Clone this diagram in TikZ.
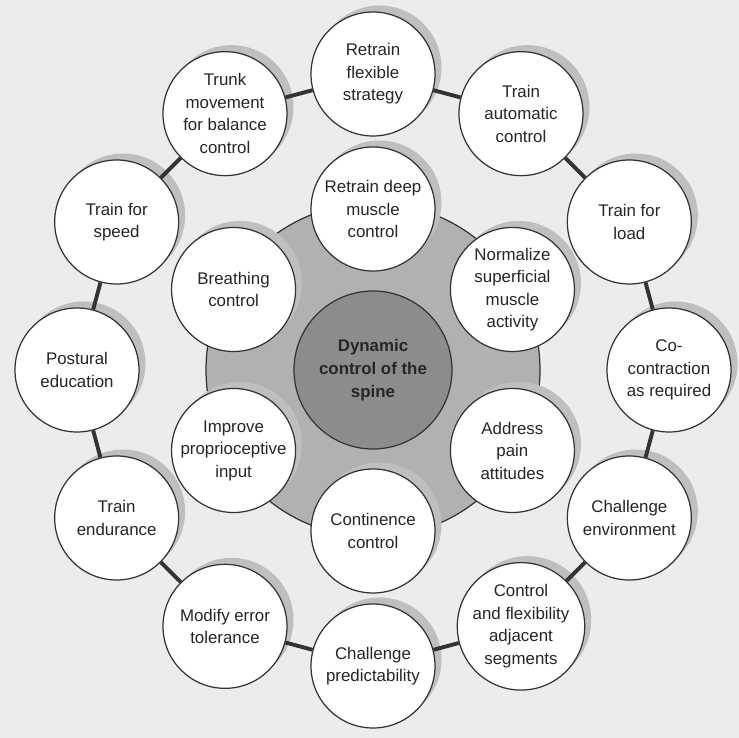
\documentclass[tikz,border=0pt]{standalone}
\usepackage{fontspec}
\setmainfont{Liberation Sans}
\usetikzlibrary{shadows}
\definecolor{pagegrey}{HTML}{ECECEE}
\definecolor{hubgrey}{HTML}{8C8C8C}
\definecolor{discgrey}{HTML}{B1B1B1}
\definecolor{shadegrey}{HTML}{BFBFBF}
\definecolor{inkgrey}{HTML}{333333}

\begin{document}
\begin{tikzpicture}[every node/.style={align=center,text=black!85,font=\fontsize{9.6}{12.8}\selectfont},
  bubble/.style={circle,draw=inkgrey,line width=.7pt,fill=white,minimum size=2.48cm,inner sep=0pt,
    drop shadow={shadow xshift=.13cm,shadow yshift=.13cm,fill=shadegrey,opacity=1}},
  link/.style={draw=inkgrey,line width=2.2pt}]
\fill[pagegrey] (-7.46,-7.36) rectangle (7.32,7.40);
% disc and hub
\node[circle,draw=inkgrey,line width=.7pt,fill=discgrey,minimum size=6.68cm] (disc) at (0,0) {};
\node[circle,draw=inkgrey,line width=.7pt,fill=hubgrey,minimum size=3.16cm,font=\bfseries\fontsize{9.6}{13.2}\selectfont] (spine) at (0,0) {Dynamic\\control of the\\spine};
% inner ring
\node[bubble] (deep) at (90:3.22) {Retrain deep\\muscle\\control};
\node[bubble] (superficial) at (30:3.22) {Normalize\\superficial\\muscle\\activity};
\node[bubble] (pain) at (-30:3.22) {Address\\pain\\attitudes};
\node[bubble] (continence) at (-90:3.22) {Continence\\control};
\node[bubble] (proprio) at (210:3.22) {Improve\\proprioceptive\\input};
\node[bubble] (breathing) at (150:3.22) {Breathing\\control};
% outer ring
\node[bubble] (flexible) at (90:5.92) {Retrain\\flexible\\strategy};
\node[bubble] (automatic) at (60:5.92) {Train\\automatic\\control};
\node[bubble] (load) at (30:5.92) {Train for\\load};
\node[bubble] (cocontract) at (0:5.92) {Co-\\contraction\\as required};
\node[bubble] (environment) at (-30:5.92) {Challenge\\environment};
\node[bubble] (adjacent) at (-60:5.92) {Control\\and flexibility\\adjacent\\segments};
\node[bubble] (predict) at (-90:5.92) {Challenge\\predictability};
\node[bubble] (error) at (-120:5.92) {Modify error\\tolerance};
\node[bubble] (endurance) at (-150:5.92) {Train\\endurance};
\node[bubble] (postural) at (180:5.92) {Postural\\education};
\node[bubble] (speed) at (150:5.92) {Train for\\speed};
\node[bubble] (trunk) at (120:5.92) {Trunk\\movement\\for balance\\control};
\draw[link] (flexible)--(automatic);
\draw[link] (automatic)--(load);
\draw[link] (load)--(cocontract);
\draw[link] (cocontract)--(environment);
\draw[link] (environment)--(adjacent);
\draw[link] (adjacent)--(predict);
\draw[link] (predict)--(error);
\draw[link] (error)--(endurance);
\draw[link] (endurance)--(postural);
\draw[link] (postural)--(speed);
\draw[link] (speed)--(trunk);
\draw[link] (trunk)--(flexible);
\end{tikzpicture}
\end{document}
